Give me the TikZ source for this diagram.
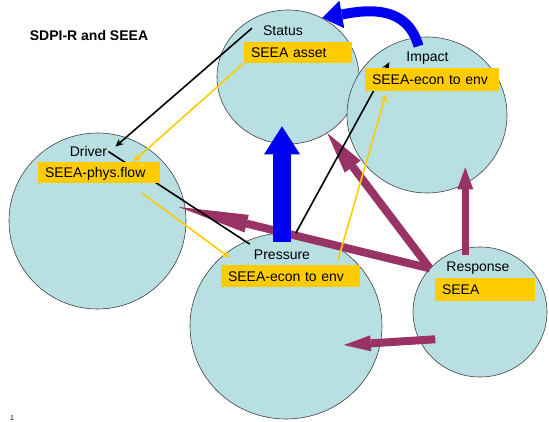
\documentclass[tikz,border=0pt]{standalone}
\usepackage{fontspec}
\setmainfont{Liberation Sans}
\usepackage{tikz}
\usetikzlibrary{arrows.meta,backgrounds,calc,shapes.geometric}
\definecolor{phasefill}{HTML}{B8DFE2}
\definecolor{tagfill}{HTML}{FFCC00}
\definecolor{plum}{HTML}{993366}
\definecolor{arrowblue}{HTML}{0000F0}

\begin{document}
\begin{tikzpicture}[x=1pt,y=1pt,
  phase/.style={ellipse,draw=black!75,line width=0.6pt,fill=phasefill,inner sep=0pt},
  tag/.style={fill=tagfill,align=left,inner xsep=7pt,inner ysep=0pt,
              text height=11pt,text depth=1pt,font=\fontsize{14}{16}\selectfont},
  lbl/.style={anchor=base,inner sep=1pt,font=\fontsize{14}{16}\selectfont},
  blackline/.style={line width=1.6pt,black},
  yellowline/.style={line width=1.6pt,tagfill},
  plumarrow/.style={line width=8pt,plum},
  bluearrow/.style={arrowblue}
]
  \useasboundingbox (0,0) rectangle (549,421);
  \begin{scope}[on background layer]
    \node[phase,minimum width=142pt,minimum height=134pt] (status) at (288,344) {};
    \node[phase,minimum width=160pt,minimum height=156pt] (impact) at (427,306) {};
    \node[phase,minimum width=177pt,minimum height=176pt] (driver) at (97.5,200) {};
    \node[phase,minimum width=192pt,minimum height=186pt] (pressure) at (286,95) {};
    \node[phase,minimum width=134pt,minimum height=130pt] (response) at (480,109) {};
  \end{scope}

  \node[lbl] (title) at (89,380.3) {\bfseries SDPI-R and SEEA};
  \node[lbl] (statuslbl) at (283,385.5) {Status};
  \node[lbl] (impactlbl) at (427.5,359.5) {Impact};
  \node[lbl] (driverlbl) at (88.5,264.5) {Driver};
  \node[lbl] (pressurelbl) at (282,162) {Pressure};
  \node[lbl] (responselbl) at (478,149.5) {Response};

  \node[tag,text width=94pt,minimum height=21pt] (statusbox) at (298,368.5) {SEEA asset};
  \node[tag,text width=120pt,minimum height=23pt] (impactbox) at (432,341.5) {SEEA-econ to env};
  \node[tag,text width=108pt,minimum height=21pt] (driverbox) at (99,248.5) {SEEA-phys.flow};
  \node[tag,text width=125pt,minimum height=22pt] (pressurebox) at (290.5,145) {SEEA-econ to env};
  \node[tag,text width=86pt,minimum height=23pt] (responsebox) at (485,131.5) {SEEA};

  \node[inner sep=0pt,font=\fontsize{7}{8}\selectfont] (pagenum) at (12,3) {1};

  \begin{scope}[on background layer]
    % response arrows
    \draw[plumarrow,-{Triangle[length=70pt,width=18pt,line width'=0pt]},shorten >=-7pt] (response.139) -- (driver.8);
    \draw[plumarrow,-{Triangle[length=42pt,width=20pt,line width'=0pt]}] (response.139) -- (status.305);
    \draw[plumarrow,line width=7pt,-{Triangle[length=22pt,width=16pt,line width'=0pt]},shorten <=-7pt,shorten >=-26pt] (response.103) -- (response.103 |- impact.south);
    \draw[plumarrow,-{Triangle[length=27pt,width=16pt,line width'=0pt]},shorten <=-16pt,shorten >=-37pt] (response.205) -- (pressure.350);
    % blue arrows
    \draw[bluearrow,line width=18pt,-{Triangle[length=28pt,width=36pt,line width'=0pt]},shorten <=6pt,shorten >=-18pt] (pressurelbl.north) -- (pressurelbl.north |- status.south);
    \draw[bluearrow,line width=10pt,-{Triangle[length=20pt,width=28pt,line width'=0pt]},shorten <=-9pt] (impact.98) to[out=105,in=10] (status.60);
    % thin links
    \draw[blackline,-{Stealth[length=8pt,width=7pt]}] ([shift={(-10pt,2.5pt)}]statuslbl.west) -- ([shift={(7pt,-1.5pt)}]driverlbl.north east);
    \draw[blackline] (driverlbl.east) -- ([shift={(-3pt,4pt)}]pressurelbl.north west);
    \draw[blackline,-{Stealth[length=8pt,width=7pt]}] (pressure.84) -- ([shift={(-16pt,-4pt)}]impactlbl.west);
    \draw[yellowline,-{Stealth[length=8pt,width=7pt]}] (statusbox.south west) -- ([xshift=34pt]driverbox.north);
    \draw[yellowline,-{Stealth[length=8pt,width=7pt]}] ([shift={(43pt,-10pt)}]driverbox.south) -- ([shift={(9pt,7pt)}]pressurebox.north west);
    \draw[yellowline,-{Stealth[length=8pt,width=7pt]}] ([shift={(-22pt,5pt)}]pressurebox.north east) -- ([shift={(21pt,-3pt)}]impactbox.south west);
  \end{scope}
\end{tikzpicture}
\end{document}
